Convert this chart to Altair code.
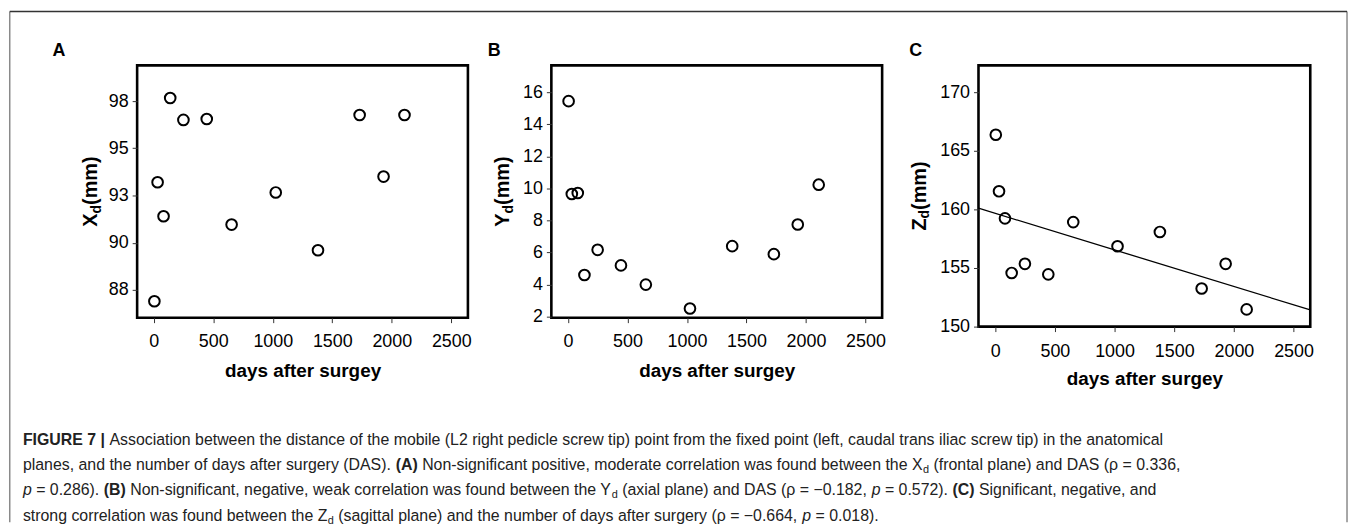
import altair as alt
import pandas as pd

# ---------------- data ----------------
days = [5, 32, 82, 138, 249, 445, 654, 1025, 1380, 1730, 1931, 2107]
x_d = [86.9, 93.2, 91.4, 97.66, 96.5, 96.55, 90.96, 92.66, 89.6, 96.76, 93.5, 96.76]
y_d = [15.44, 9.65, 9.71, 4.6, 6.17, 5.2, 4.0, 2.51, 6.4, 5.9, 7.75, 10.23]
z_d = [166.38, 161.55, 159.24, 154.58, 155.36, 154.46, 158.92, 156.86, 158.08, 153.25, 155.36, 151.47]

x_ticks = [0, 500, 1000, 1500, 2000, 2500]
a_ticks = [87.5, 90, 92.5, 95, 97.5]
b_ticks = [2, 4, 6, 8, 10, 12, 14, 16]
c_ticks = [150, 155, 160, 165, 170]
x_title = "days after surgey"
panel_letters = ["A", "B", "C"]
axis_letters = ["X", "Y", "Z"]

caption_lines = [
    [("b", "FIGURE 7 |"),
     ("r", " Association between the distance of the mobile (L2 right pedicle screw tip) point from the fixed point (left, caudal trans iliac screw tip) in the anatomical")],
    [("r", "planes, and the number of days after surgery (DAS). "), ("b", "(A)"),
     ("r", " Non-significant positive, moderate correlation was found between the X"), ("s", "d"),
     ("r", " (frontal plane) and DAS (\u03c1 = 0.336,")],
    [("i", "p"), ("r", " = 0.286). "), ("b", "(B)"),
     ("r", " Non-significant, negative, weak correlation was found between the Y"), ("s", "d"),
     ("r", " (axial plane) and DAS (\u03c1 = \u22120.182, "), ("i", "p"), ("r", " = 0.572). "), ("b", "(C)"),
     ("r", " Significant, negative, and")],
    [("r", "strong correlation was found between the Z"), ("s", "d"),
     ("r", " (sagittal plane) and the number of days after surgery (\u03c1 = \u22120.664, "), ("i", "p"),
     ("r", " = 0.018).")],
]

# ---------------- style / layout ----------------
FONT = "Liberation Sans, Arial, Helvetica, sans-serif"
X_DOMAIN = [-140, 2640]
CAP_SIZE = 16
SUB_SIZE = 11

_chars = " !\"#$%&'()*+,-./0123456789:;<=>?@ABCDEFGHIJKLMNOPQRSTUVWXYZ[\\]^_`abcdefghijklmnopqrstuvwxyz{|}~"
_w = [278, 278, 355, 556, 556, 889, 667, 191, 333, 333, 389, 584, 278, 333, 278, 278,
      556, 556, 556, 556, 556, 556, 556, 556, 556, 556, 278, 278, 584, 584, 584, 556, 1015,
      667, 667, 722, 722, 667, 611, 778, 722, 278, 500, 667, 556, 833, 722, 778, 667, 778, 722,
      667, 611, 722, 667, 944, 667, 667, 611, 278, 278, 278, 469, 556, 333,
      556, 556, 500, 556, 556, 278, 556, 556, 222, 222, 500, 222, 833, 556, 556, 556, 556, 333,
      500, 278, 556, 500, 722, 500, 500, 500, 334, 260, 334, 584]
REG = dict(zip(_chars, _w))
REG["\u03c1"] = 578
REG["\u2212"] = 584
BOLD = dict(REG)
BOLD.update({"A": 722, "B": 722, "C": 722, "E": 667, "F": 611, "G": 778, "I": 278,
             "R": 722, "U": 722, "|": 280, "(": 333, ")": 333, "X": 667, "Y": 667, "Z": 611,
             "d": 611, "m": 889})


def text_width(txt, size, table):
    return sum(table.get(c, 556) for c in txt) / 1000.0 * size


def one(txt):
    return pd.DataFrame({"t": [txt]})


def panel(vals, idx, ydom, yticks, yfmt, w, h, geo, regression=False):
    df = pd.DataFrame({"day": days, "v": vals})
    xenc = alt.X(
        "day:Q",
        scale=alt.Scale(domain=X_DOMAIN, nice=False, zero=False),
        axis=alt.Axis(values=x_ticks, title=x_title, format="d", labelFontSize=18, labelFont=FONT,
                      labelColor="#000", labelBaseline="alphabetic", labelPadding=geo["xlab_pad"],
                      labelFlush=False, tickSize=5, tickColor="#333", tickWidth=1, domain=False,
                      grid=False, titleFont=FONT, titleFontSize=19, titleFontWeight="bold",
                      titleColor="#000", titleBaseline="alphabetic", titleY=geo["title_y"]),
    )
    yenc = alt.Y(
        "v:Q", title=None,
        scale=alt.Scale(domain=ydom, nice=False, zero=False),
        axis=alt.Axis(values=yticks, format=yfmt, labelFontSize=18, labelFont=FONT, labelColor="#000",
                      labelPadding=4, tickSize=5, tickColor="#333", tickWidth=1, domain=False,
                      grid=False),
    )
    layers = [
        alt.Chart(df).mark_point(shape="circle", filled=False, color="#000", strokeWidth=2,
                                 size=115, opacity=1).encode(x=xenc, y=yenc)
    ]
    if regression:
        layers.append(
            alt.Chart(df).transform_regression("day", "v", extent=X_DOMAIN)
            .mark_line(color="#000", strokeWidth=1.3, clip=True).encode(x=xenc, y=yenc)
        )
    # panel letter
    layers.append(
        alt.Chart(one(panel_letters[idx])).mark_text(
            align="left", baseline="alphabetic", font=FONT, fontSize=18, fontWeight="bold", color="#000"
        ).encode(text="t:N", x=alt.value(geo["letter_x"]), y=alt.value(-9))
    )
    # rotated y title with subscript
    main = axis_letters[idx]
    w_main = text_width(main, 20, BOLD)
    w_sub = text_width("d", 14, BOLD)
    w_mm = text_width("(mm)", 20, BOLD)
    total = w_main + w_sub + w_mm
    y0 = h / 2 + total / 2
    bx = geo["title_x"]
    pieces = [(main, 20, bx, y0), ("d", 14, bx + 3.5, y0 - w_main), ("(mm)", 20, bx, y0 - w_main - w_sub)]
    for txt, fs, px, py in pieces:
        layers.append(
            alt.Chart(one(txt)).mark_text(
                angle=270, align="left", baseline="alphabetic", font=FONT, fontSize=fs,
                fontWeight="bold", color="#000"
            ).encode(text="t:N", x=alt.value(px), y=alt.value(py))
        )
    return alt.layer(*layers).properties(
        width=w, height=h, view=alt.ViewBackground(stroke="#000", strokeWidth=2.6)
    )


def spacer(w):
    return alt.Chart(one("")).mark_rule(opacity=0).encode(x=alt.value(0)).properties(
        width=w, height=10, view=alt.ViewBackground(stroke="transparent"))


# page coordinates (px) of the plot areas
A_LEFT, B_LEFT, C_LEFT, TOP = 137, 554, 984, 63
A_W, B_W, C_W = 333, 333, 334
A_H, C_H = 254, 263

pA = panel(x_d, 0, [86.03, 99.39], a_ticks, ".0f", A_W, A_H,
           dict(xlab_pad=24, title_y=59, letter_x=51.7 - A_LEFT, title_x=96.7 - A_LEFT))
pB = panel(y_d, 1, [1.94, 17.67], b_ticks, "d", B_W, A_H,
           dict(xlab_pad=24, title_y=59, letter_x=490 - B_LEFT, title_x=511.7 - B_LEFT))
pC = panel(z_d, 2, [150, 172.3], c_ticks, "d", C_W, C_H,
           dict(xlab_pad=25, title_y=58, letter_x=914.3 - C_LEFT, title_x=930.7 - C_LEFT), regression=True)

# ---------------- caption (in its own tiny view right of panel C) ----------------
CAP_LEFT = C_LEFT + C_W  # page x of caption view origin
CAP_TOP = TOP
CAP_X = 22 - CAP_LEFT
CAP_Y0 = 445 - CAP_TOP
CAP_DY = 25.5
rows = []
for i, line in enumerate(caption_lines):
    cur = CAP_X
    base_y = CAP_Y0 + i * CAP_DY
    for style, txt in line:
        size = SUB_SIZE if style == "s" else CAP_SIZE
        table = BOLD if style == "b" else REG
        lead = len(txt) - len(txt.lstrip(" "))
        rows.append({"t": txt.strip(" "), "x": cur + text_width(" " * lead, size, table),
                     "y": base_y + (3 if style == "s" else 0), "s": style})
        cur += text_width(txt, size, table)
segs = pd.DataFrame(rows)

cap_layers = []
for style, kw in [("r", {}), ("b", {"fontWeight": "bold"}), ("i", {"fontStyle": "italic"}),
                  ("s", {"fontSize": SUB_SIZE})]:
    opts = dict(align="left", baseline="alphabetic", font=FONT, fontSize=CAP_SIZE, color="#222")
    opts.update(kw)
    cap_layers.append(
        alt.Chart(segs[segs["s"] == style]).mark_text(**opts).encode(
            text="t:N", x=alt.X("x:Q", scale=None), y=alt.Y("y:Q", scale=None)
        )
    )

# outer frame of the figure
fl, fr = 8.75 - CAP_LEFT, 1355 - CAP_LEFT
ft, fb = 8.75 - CAP_TOP, 523 - CAP_TOP
cap_layers.append(alt.Chart(one("l")).mark_rule(color="#8a8a8a", strokeWidth=1.5).encode(
    x=alt.value(fl), y=alt.value(ft), y2=alt.value(fb)))
cap_layers.append(alt.Chart(one("r")).mark_rule(color="#8a8a8a", strokeWidth=1.5).encode(
    x=alt.value(fr), y=alt.value(ft), y2=alt.value(fb)))
cap_layers.append(alt.Chart(one("t")).mark_rule(color="#333", strokeWidth=1.5).encode(
    x=alt.value(fl), x2=alt.value(fr), y=alt.value(ft)))

caption = alt.layer(*cap_layers).properties(
    width=10, height=10, view=alt.ViewBackground(stroke="transparent")
)

chart = alt.hconcat(
    pA, spacer(B_LEFT - A_LEFT - A_W), pB, spacer(C_LEFT - B_LEFT - B_W), pC, caption,
    spacing=0, bounds="flush",
).properties(padding=0, background="white")

chart.save("out.html", embed_options={"renderer": "svg", "actions": False})
